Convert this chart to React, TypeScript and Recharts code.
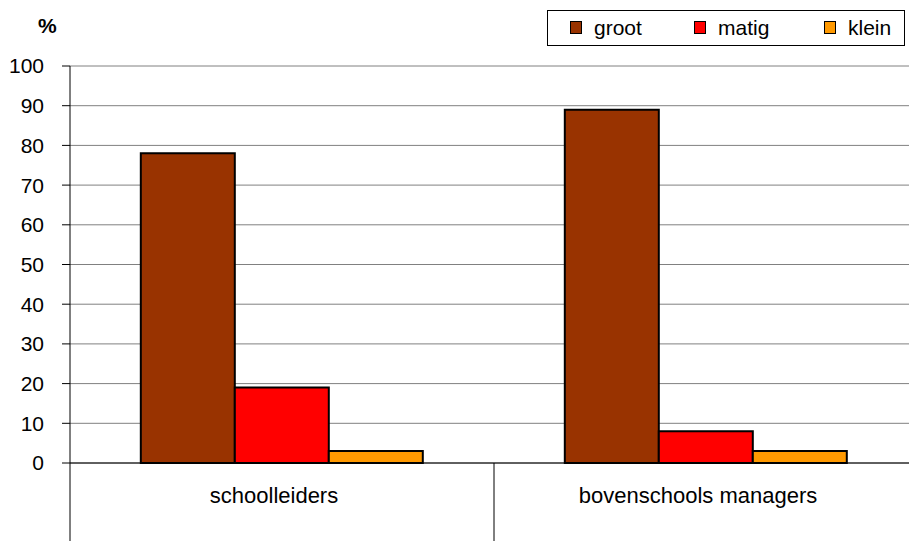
import React from 'react';
import { BarChart, Bar, XAxis, YAxis, CartesianGrid } from 'recharts';

const categories = ['schoolleiders', 'bovenschools managers'];
const groot = [78, 89];
const matig = [19, 8];
const klein = [3, 3];
const yTicks = [0, 10, 20, 30, 40, 50, 60, 70, 80, 90, 100];

const SERIES = [
  { key: 'groot', color: '#993300' },
  { key: 'matig', color: '#FF0000' },
  { key: 'klein', color: '#FF9900' },
];

const data = categories.map((name, i) => ({
  name,
  groot: groot[i],
  matig: matig[i],
  klein: klein[i],
}));

const FONT = '"Liberation Sans", Arial, sans-serif';
const FS = 21;
const CHART_W = 930;
const CHART_H = 541;
const HALF_BAND = (918 - 70) / categories.length / 2;

const CategoryTick = ({ x, y, payload }: any) => (
  <g>
    <line x1={x - HALF_BAND} y1={y} x2={x - HALF_BAND} y2={CHART_H} stroke="#000" strokeWidth={1} />
    <text x={x - 8} y={y + 40} textAnchor="middle" fontSize={22} fontFamily={FONT} fill="#000">
      {payload.value}
    </text>
  </g>
);

function LegendBox() {
  return (
    <div
      style={{
        position: 'absolute',
        left: 547,
        top: 10,
        width: 358,
        height: 36,
        border: '1px solid #000',
        background: '#fff',
        boxSizing: 'border-box',
        fontFamily: FONT,
        fontSize: FS,
        lineHeight: `${FS}px`,
      }}
    >
      {SERIES.map((s, i) => (
        <React.Fragment key={s.key}>
          <span
            style={{
              position: 'absolute',
              left: [22, 146, 276][i],
              top: 10,
              width: 10,
              height: 11,
              background: s.color,
              border: '1.5px solid #000',
            }}
          />
          <span style={{ position: 'absolute', left: [46, 170, 300][i], top: 6 }}>{s.key}</span>
        </React.Fragment>
      ))}
    </div>
  );
}

export default function App() {
  return (
    <div
      style={{
        position: 'fixed',
        left: 0,
        top: 0,
        width: 909,
        height: 541,
        overflow: 'hidden',
        background: '#fff',
      }}
    >
      <div
        style={{
          position: 'absolute',
          left: 38,
          top: 15,
          fontFamily: FONT,
          fontSize: FS,
          lineHeight: `${FS}px`,
          fontWeight: 'bold',
        }}
      >
        %
      </div>
      <BarChart
        width={CHART_W}
        height={CHART_H}
        data={data}
        margin={{ top: 66, right: 12, bottom: 0, left: 0 }}
        barCategoryGap="16.7%"
        barGap={0}
      >
        <CartesianGrid vertical={false} stroke="#808080" strokeWidth={1} />
        <XAxis
          dataKey="name"
          height={78}
          axisLine={{ stroke: '#000', strokeWidth: 1 }}
          tickLine={false}
          tickSize={0}
          tickMargin={0}
          tick={<CategoryTick />}
          interval={0}
        />
        <YAxis
          width={70}
          domain={[0, 100]}
          ticks={yTicks}
          interval={0}
          axisLine={{ stroke: '#000', strokeWidth: 1 }}
          tickLine={{ stroke: '#000' }}
          tickSize={8}
          tickMargin={18}
          tick={{ fill: '#000', fontSize: FS, fontFamily: FONT }}
        />
        {SERIES.map((s) => (
          <Bar
            key={s.key}
            dataKey={s.key}
            fill={s.color}
            stroke="#000"
            strokeWidth={2}
            isAnimationActive={false}
          />
        ))}
      </BarChart>
      <LegendBox />
    </div>
  );
}
